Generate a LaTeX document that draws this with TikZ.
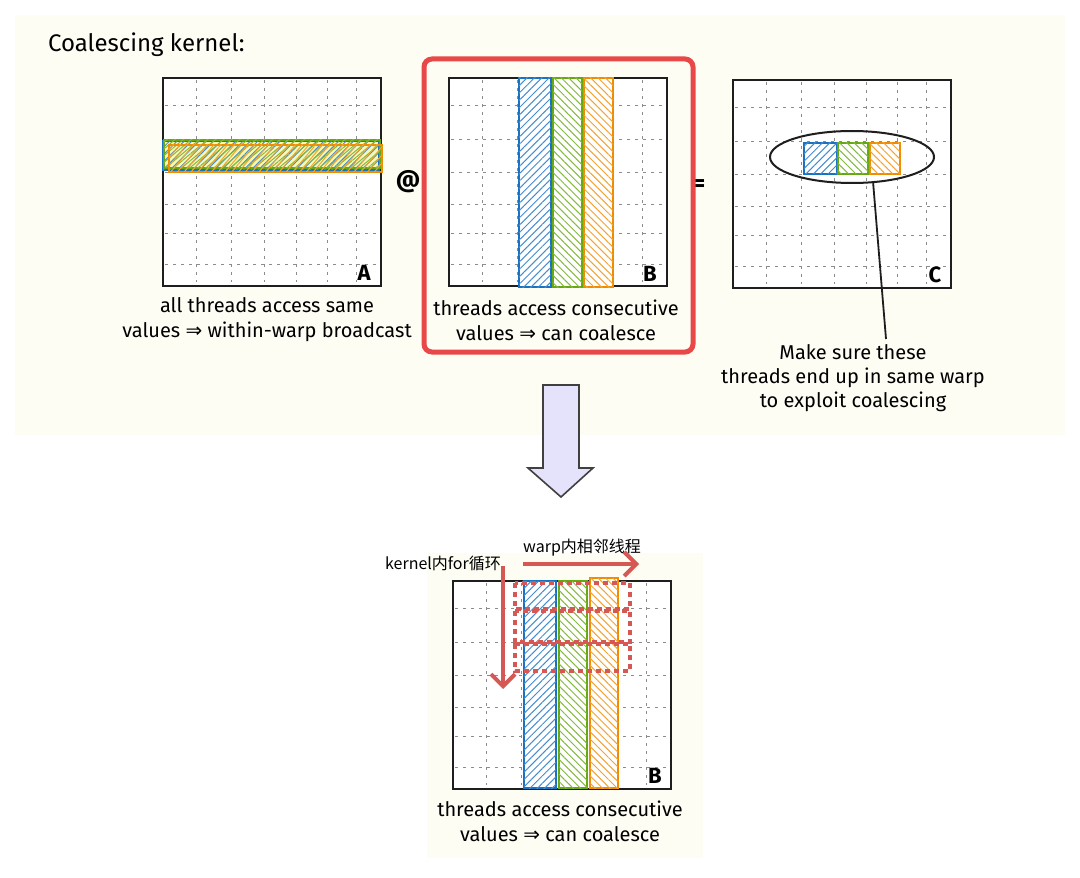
\documentclass[tikz,border=0pt]{standalone}
\usepackage{fontspec}
\setmainfont{Fira Sans}
\newfontfamily\cjk{Noto Sans CJK SC}
\newfontfamily\arrowfont{DejaVu Sans}
\usetikzlibrary{shapes.geometric,patterns.meta,arrows.meta}

\definecolor{paper}{RGB}{253,253,244}
\definecolor{ink}{RGB}{30,30,30}
\definecolor{dotgray}{RGB}{140,140,140}
\definecolor{xblue}{RGB}{25,113,194}
\definecolor{xgreen}{RGB}{102,168,15}
\definecolor{xorange}{RGB}{240,140,0}
\definecolor{frameRed}{RGB}{232,72,72}
\definecolor{mutedRed}{RGB}{214,88,84}
\definecolor{lavender}{RGB}{229,227,251}

\newcommand{\implarrow}{{\arrowfont ⇒}}

\begin{document}
\begin{tikzpicture}[x=0.5pt, y=-0.5pt,
  gridframe/.style={draw=ink, line width=1.2pt, fill=white,
    minimum width=109pt, minimum height=104pt, inner sep=0pt},
  gridline/.style={dotgray, line width=0.55pt, dash pattern=on 1.5pt off 2.5pt},
  hatch/.style 2 args={draw=#1, line width=0.9pt,
    postaction={pattern={Lines[angle=#2,distance=2.6pt,line width=0.5pt]},
      pattern color=#1!80}},
  caption/.style={align=center, font=\fontsize{10}{12.5}\selectfont},
  lbl/.style={font=\fontsize{11}{12}\selectfont\bfseries},
  zh/.style={font=\cjk\fontsize{8}{10}\selectfont, inner sep=1pt},
  redarrow/.style={mutedRed, line width=2pt, -{Straight Barb[length=6pt,width=12pt]}},
  reddots/.style={draw=mutedRed, line width=2pt, dash pattern=on 2.5pt off 2pt}]

  \useasboundingbox (0,0) rectangle (1080,877);
  \fill[white] (0,0) rectangle (1080,877);

  % Panels
  \fill[paper] (15,15) rectangle (1065,435);
  \fill[paper] (427,553) rectangle (703,858);

  \node[anchor=west, font=\fontsize{12}{14}\selectfont] (title) at (41,45) {Coalescing kernel:};

  % Grids
  \node[gridframe] (gA) at (272,182) {};
  \node[gridframe] (gB) at (558,182) {};
  \node[gridframe] (gC) at (842,184) {};
  \node[gridframe] (gD) at (562,685) {};
  \foreach \g in {gA,gB,gC,gD} {
    \begin{scope}[shift={(\g.north west)}]
      \foreach \c in {35,70,103,135,166,195}
        \draw[gridline] (\c,3) -- (\c,205);
      \foreach \r in {29,63,96,128,157,188}
        \draw[gridline] (3,\r) -- (215,\r);
    \end{scope}
  }

  % A: one row
  \fill[xgreen!22!yellow!30] (164,141) rectangle (380,170);
  \draw[hatch={xblue}{45}] (163,141) rectangle (379,170);
  \draw[hatch={xgreen}{40}] (164,140) rectangle (380,168);
  \draw[hatch={xorange}{50}] (169,145) rectangle (382,172);

  % B: three columns
  \draw[hatch={xblue}{45}, fill=white] (519,78) rectangle (551,287);
  \draw[hatch={xgreen}{-45}, fill=white] (553,78) rectangle (582,287);
  \draw[hatch={xorange}{-45}, fill=white] (584,78) rectangle (613,287);

  % C: three cells
  \draw[hatch={xblue}{45}, fill=white] (804,143) rectangle (837,174);
  \draw[hatch={xgreen}{-45}, fill=white] (838,143) rectangle (868,174);
  \draw[hatch={xorange}{-45}, fill=white] (870,143) rectangle (900,174);

  % D: lower copy of B
  \draw[hatch={xblue}{45}, fill=white] (524,581) rectangle (556,788);
  \draw[hatch={xgreen}{-45}, fill=white] (559,581) rectangle (587,788);
  \draw[hatch={xorange}{-45}, fill=white] (590,578) rectangle (618,788);

  \node[lbl] (labA) at (364,273) {A};
  \node[lbl] (labB) at (650,274) {B};
  \node[lbl] (labC) at (935,275) {C};
  \node[lbl] (labD) at (655,776) {B};

  \node[font=\fontsize{12}{14}\selectfont\bfseries] (at) at (408,182) {@};
  \node[font=\fontsize{12}{14}\selectfont\bfseries] (eq) at (699,186) {=};

  % captions
  \node[caption] (capA) at (267,320) {all threads access same\\values \implarrow{} within-warp broadcast};
  \node[caption] (capB) at (556,320) {threads access consecutive\\values \implarrow{} can coalesce};
  \node[caption] (capD) at (560,821) {threads access consecutive\\values \implarrow{} can coalesce};

  \draw[frameRed, line width=2.5pt, rounded corners=4pt] (424,59) rectangle (693,352);

  % warp note
  \node[draw=ink, line width=1pt, ellipse, minimum width=82pt, minimum height=26pt] (ring) at (852,157) {};
  \node[caption, font=\fontsize{10}{12}\selectfont] (note) at (853,378)
    {Make sure these\\threads end up in same warp\\to exploit coalescing};
  \coordinate (noteTop) at (886,339);
  \draw[ink, line width=0.9pt] (ring.-51) -- (noteTop);

  % big arrow down
  \draw[fill=lavender, draw=ink!85, line width=0.8pt]
    (543,385) -- (579,385) -- (579,468) -- (593,468) -- (561,497)
    -- (528,468) -- (543,468) -- cycle;

  % loop order
  \draw[reddots] (515,583) rectangle (630,609);
  \draw[reddots] (515,611) rectangle (630,642);
  \draw[reddots] (515,644) rectangle (630,671);

  \node[zh] (warpLbl) at (582,548) {warp内相邻线程};
  \node[zh] (loopLbl) at (443,563) {kernel内for循环};
  \coordinate (hStart) at (523,564);
  \coordinate (hEnd) at (639,564);
  \coordinate (vStart) at (503,566);
  \coordinate (vEnd) at (503,689);
  \draw[redarrow] (hStart) -- (hEnd);
  \draw[redarrow] (vStart) -- (vEnd);
\end{tikzpicture}
\end{document}
